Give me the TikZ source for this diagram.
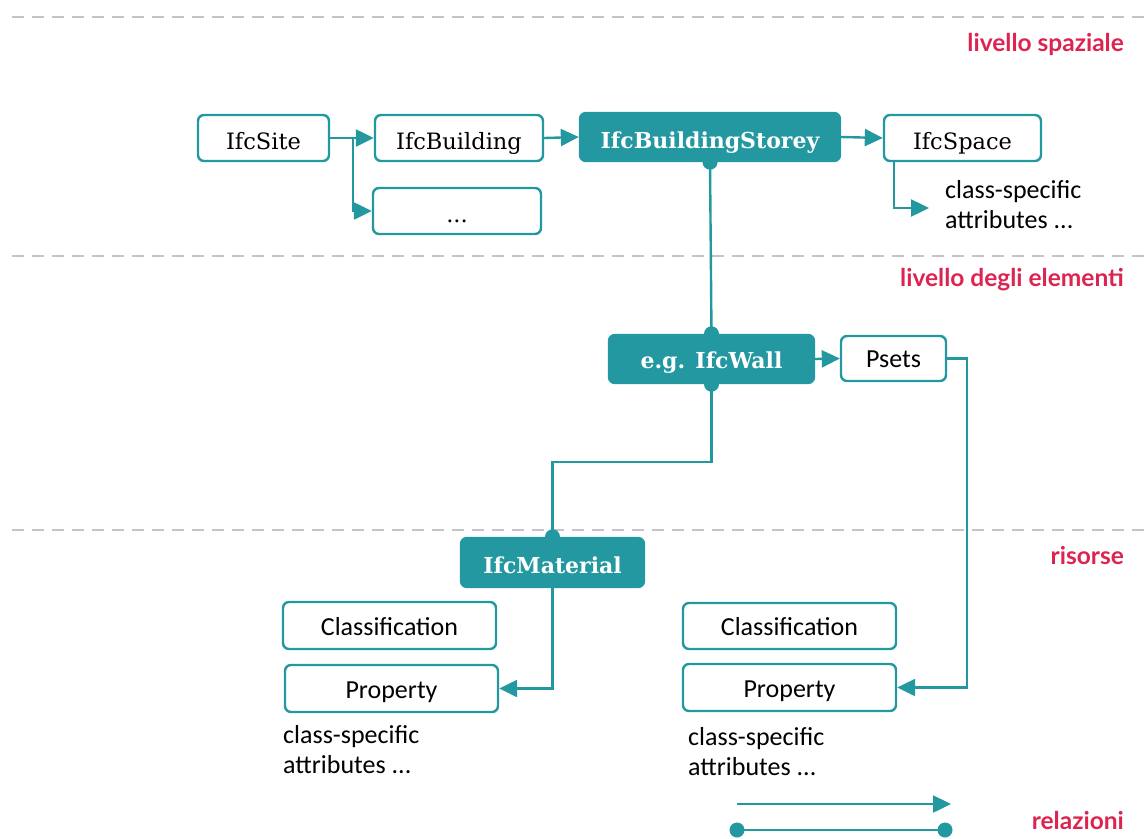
\documentclass[tikz,border=0pt]{standalone}
\usepackage{fontspec}
\setmainfont{Carlito}
\newfontfamily\ifcfont{DejaVu Serif}
\newfontfamily\tagfont{Lato}
\usetikzlibrary{arrows.meta,positioning}
\definecolor{teal}{HTML}{2398A0}
\definecolor{tagred}{HTML}{DD2450}
\definecolor{rule}{HTML}{C4C4C4}
\tikzset{
  box/.style={draw=teal, line width=2.4pt, rounded corners=6pt, fill=white,
    inner sep=0pt, text height=19pt, text depth=0pt,
    font=\fontsize{26}{30}\selectfont},
  ifcbox/.style={box, text height=22pt, font=\ifcfont\fontsize{22.5}{26}\selectfont},
  keybox/.style={draw=teal, line width=2.4pt, rounded corners=6pt, fill=teal,
    text=white, inner sep=0pt, text height=21pt, text depth=0pt,
    font=\ifcfont\bfseries\fontsize{22}{26}\selectfont},
  note/.style={align=left, anchor=north west, inner sep=0pt,
    font=\fontsize{26}{30}\selectfont},
  tag/.style={anchor=east, inner sep=0pt, text=tagred,
    font=\tagfont\bfseries\fontsize{24.5}{28}\selectfont},
  link/.style={draw=teal, line width=2.4pt},
  arr/.style={link, -{Triangle[length=18pt,width=17pt]}},
  levelrule/.style={draw=rule, line width=2pt, dash pattern=on 12pt off 8pt},
}
\newcommand{\jointdot}[1]{\fill[teal] (#1) circle (7.5pt);}
\begin{document}
\begin{tikzpicture}[x=1pt,y=-1pt]
\useasboundingbox (0,0) rectangle (1147,838);

% level separators
\draw[levelrule] (12,17) -- (1147,17);
\draw[levelrule] (12,256) -- (1147,256);
\draw[levelrule] (12,530) -- (1147,530);

% level labels
\node[tag] (lvl1) at (1124,44) {livello spaziale};
\node[tag] (lvl2) at (1124,280) {livello degli elementi};
\node[tag] (lvl3) at (1124,556) {risorse};
\node[tag] (lvl4) at (1124,820) {relazioni};

% spatial level
\node[ifcbox, minimum width=131pt, minimum height=46pt] (site) at (263.5,138) {IfcSite};
\node[ifcbox, minimum width=168pt, minimum height=46pt] (bldg) at (459,138) {IfcBuilding};
\node[ifcbox, minimum width=168pt, minimum height=46pt] (more) at (457,211) {...};
\node[keybox, text height=23pt, minimum width=260pt, minimum height=48pt] (storey) at (710,137) {IfcBuildingStorey};
\node[ifcbox, minimum width=157pt, minimum height=46pt] (space) at (962.5,138) {IfcSpace};
\node[note] (spattr) at (945,180) {class-specific\\attributes ...};
\coordinate (spin) at (929,208);

% element level
\node[keybox, text height=18pt, minimum width=205pt, minimum height=48pt] (wall) at (711.5,359) {e.g. IfcWall};
\node[box, text height=17pt, minimum width=105pt, minimum height=45pt] (psets) at (893.5,358.5) {Psets};

% resources level
\node[keybox, minimum width=183pt, minimum height=49pt] (mat) at (552.5,562.5) {IfcMaterial};
\node[box, minimum width=213pt, minimum height=47pt] (classL) at (389.5,625.5) {Classification};
\node[box, minimum width=213pt, minimum height=47pt] (propL) at (391.5,688.5) {Property};
\node[note] (attrL) at (283,725) {class-specific\\attributes ...};
\node[box, minimum width=213pt, minimum height=46pt] (classR) at (789.5,626) {Classification};
\node[box, minimum width=213pt, minimum height=47pt] (propR) at (789.5,687.5) {Property};
\node[note] (attrR) at (688,727) {class-specific\\attributes ...};

% spatial relations
\draw[arr] (site.east) -- (bldg.west);
\draw[arr] (site.east) -- ++(23,0) |- (more.west);
\draw[arr] (bldg.east) -- (storey.west);
\draw[arr] (storey.east) -- (space.west);
\draw[arr] ([xshift=11pt]space.south west) |- (spin);

% containment
\draw[link] (storey.south) -- (wall.north);
\jointdot{storey.south}
\jointdot{wall.north}
\draw[arr] (wall.east) -- (psets.west);
\draw[arr] (psets.east) -- ++(20,0) |- (propR.east);

% material association
\draw[link] (wall.south) -- ++(0,78) -| (mat.north);
\jointdot{wall.south}
\jointdot{mat.north}
\draw[arr] (mat.south) |- (propL.east);

% legend
\coordinate (la) at (737,804);
\coordinate (lb) at (951,804);
\coordinate (lc) at (737,830);
\coordinate (ld) at (945,830);
\draw[arr] (la) -- (lb);
\draw[link] (lc) -- (ld);
\jointdot{lc}
\jointdot{ld}
\end{tikzpicture}
\end{document}
